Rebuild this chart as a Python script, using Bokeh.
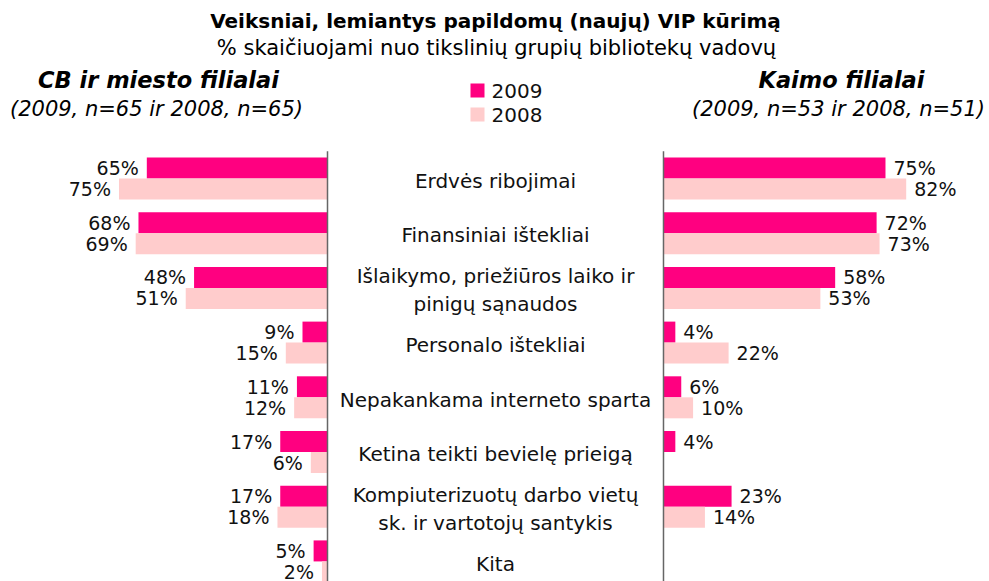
from bokeh.plotting import figure
from bokeh.models import Range1d, Label, ColumnDataSource
from bokeh.embed import file_html
from bokeh.resources import INLINE
from bokeh.core.properties import value

# ---- data ----
categories = [
    "Erdvės ribojimai",
    "Finansiniai ištekliai",
    "Išlaikymo, priežiūros laiko ir\npinigų sąnaudos",
    "Personalo ištekliai",
    "Nepakankama interneto sparta",
    "Ketina teikti bevielę prieigą",
    "Kompiuterizuotų darbo vietų\nsk. ir vartotojų santykis",
    "Kita",
]
city_2009 = [65, 68, 48, 9, 11, 17, 17, 5]
city_2008 = [75, 69, 51, 15, 12, 6, 18, 2]
rural_2009 = [75, 72, 58, 4, 6, 4, 23, None]
rural_2008 = [82, 73, 53, 22, 10, None, 14, None]
years = ["2009", "2008"]

C2009 = "#FF0080"
C2008 = "#FFCCCC"
FONT = value("DejaVu Sans")

W, H = 989, 581
p = figure(width=W, height=H, output_backend="svg", toolbar_location=None,
           x_range=Range1d(0, W), y_range=Range1d(H, 0), min_border=0)
p.axis.visible = False
p.grid.visible = False
p.outline_line_color = None
p.background_fill_color = "white"

# extra scales: left panel (reversed), right panel, rows
p.extra_x_ranges = {
    "L": Range1d(start=117.63, end=-238.13),
    "R": Range1d(start=-223.99, end=110.14),
}
p.extra_y_ranges = {"rows": Range1d(start=7.367, end=-3.254)}

BAR_H = 0.384
OFF = 0.192


def side(vals, color, offset, rng, sign):
    ys = [i + offset for i, v in enumerate(vals) if v is not None]
    xs = [v for v in vals if v is not None]
    src = ColumnDataSource(dict(y=ys, x=xs, t=[f"{v}%" for v in xs]))
    p.hbar(y="y", left=0, right="x", height=BAR_H, source=src, color=color,
           line_color=None, x_range_name=rng, y_range_name="rows")
    p.text(x="x", y="y", text="t", source=src, x_offset=8 * sign,
           text_align="left" if sign > 0 else "right", text_baseline="middle",
           text_font=FONT, text_font_size="19px", text_color="#111111",
           x_range_name=rng, y_range_name="rows")


side(city_2009, C2009, -OFF, "L", -1)
side(city_2008, C2008, OFF, "L", -1)
side(rural_2009, C2009, -OFF, "R", 1)
side(rural_2008, C2008, OFF, "R", 1)

# vertical base lines
n = len(categories)
for rng in ("L", "R"):
    p.segment(x0=[0], x1=[0], y0=[-0.5], y1=[n], line_color="#666666",
              line_width=1.5, x_range_name=rng, y_range_name="rows")

# category labels (centered between the panels)
cat_src = ColumnDataSource(dict(y=[i + 0.04 for i in range(n)], t=categories))
p.text(x=495, y="y", text="t", source=cat_src, text_align="center",
       text_baseline="middle", text_font=FONT, text_font_size="20px",
       text_line_height=1.2, text_color="#111111", y_range_name="rows")


def lab(x, y, t, size, style="normal"):
    p.add_layout(Label(x=x, y=y, text=t, text_align="center",
                       text_baseline="middle", text_font="DejaVu Sans",
                       text_font_size=size, text_font_style=style,
                       text_color="#000000"))


lab(495, 20, "Veiksniai, lemiantys papildomų (naujų) VIP kūrimą", "20px", "bold")
lab(496, 47, "% skaičiuojami nuo tikslinių grupių bibliotekų vadovų", "21px")
lab(158, 79, "CB ir miesto filialai", "22.5px", "bold italic")
lab(156, 108, "(2009, n=65 ir 2008, n=65)", "21px", "italic")
lab(841, 79, "Kaimo filialai", "22.5px", "bold italic")
lab(838, 108, "(2009, n=53 ir 2008, n=51)", "21px", "italic")

# legend
p.rect(x=[477, 477], y=[90, 114], width=14, height=14, color=[C2009, C2008],
       line_color=None)
p.text(x=[491, 491], y=[90, 114], text=years, text_align="left",
       text_baseline="middle", text_font=FONT, text_font_size="20px",
       text_color="#111111")

open("out.html", "w").write(file_html(p, INLINE))
